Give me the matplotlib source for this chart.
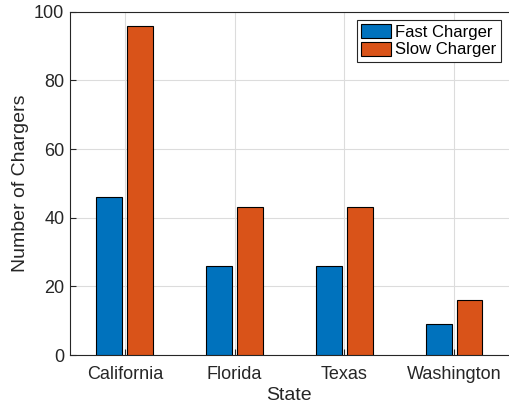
import matplotlib.pyplot as plt
import numpy as np

plt.rcParams['font.family'] = ['Liberation Sans', 'DejaVu Sans']

states = ['California', 'Florida', 'Texas', 'Washington']
fast = [46, 26, 26, 9]
slow = [96, 43, 43, 16]

ind = np.arange(1, len(states) + 1)
width = 0.235
off = 0.14

fig = plt.figure(figsize=(5.1, 4.09), dpi=100)
ax = fig.add_axes([0.137, 0.132, 0.861, 0.839])

ax.bar(ind - off, fast, width, color='#0072BD', edgecolor='black', linewidth=0.8,
       label='Fast Charger', zorder=3)
ax.bar(ind + off, slow, width, color='#D95319', edgecolor='black', linewidth=0.8,
       label='Slow Charger', zorder=3)

ax.set_xlim(0.5, 4.5)
ax.set_ylim(0, 100)
ax.set_xticks(ind)
ax.set_xticklabels(states)
ax.set_yticks(np.arange(0, 101, 20))
ax.grid(True, color='#dcdcdc', linewidth=0.8, zorder=0)
ax.set_axisbelow(True)

for s in ax.spines.values():
    s.set_color('#262626')
    s.set_linewidth(0.8)
ax.spines['right'].set_visible(False)
ax.tick_params(colors='#262626', labelsize=13, direction='in', length=4, width=0.8)
ax.tick_params(axis='x', pad=8)
ax.tick_params(axis='y', pad=4)

ax.set_xlabel('State', fontsize=14, color='#262626', labelpad=3)
ax.set_ylabel('Number of Chargers', fontsize=14, color='#262626', labelpad=4)

leg = ax.legend(loc='upper right', fontsize=12, fancybox=False, framealpha=1,
                edgecolor='#262626', handlelength=1.8, handleheight=0.9,
                borderpad=0.25, labelspacing=0.1, handletextpad=0.25,
                borderaxespad=0.5)
leg.get_frame().set_linewidth(0.8)

fig.savefig('out.png', dpi=100)
